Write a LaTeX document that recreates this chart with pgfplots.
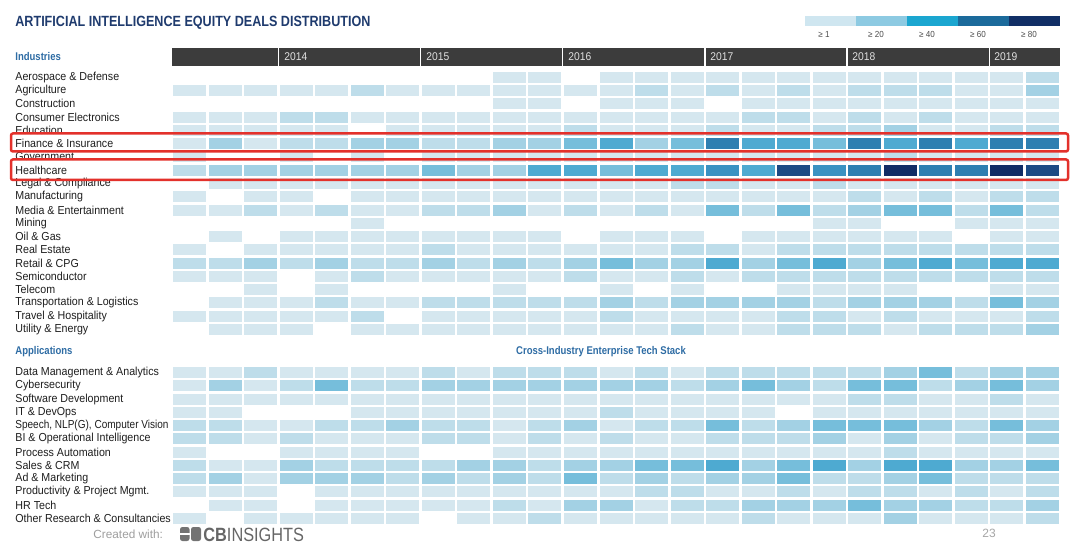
\documentclass[border=0pt]{standalone}
\usepackage{fontspec}
\setmainfont{Liberation Sans}
\newfontfamily\lab[FakeStretch=0.92]{Liberation Sans}
\newfontfamily\cond[FakeStretch=0.85]{Liberation Sans}
\usepackage{graphicx}
\usepackage{pgfplots}
\usepackage{pgfplotstable}
\pgfplotsset{compat=1.18}

\definecolor{hmA}{HTML}{D5E7EF}
\definecolor{hmB}{HTML}{BEDDEA}
\definecolor{hmC}{HTML}{A3D1E4}
\definecolor{hmD}{HTML}{76BEDB}
\definecolor{hmE}{HTML}{4EAAD1}
\definecolor{hmM}{HTML}{3A92C2}
\definecolor{hmF}{HTML}{2E7FB1}
\definecolor{hmG}{HTML}{1C4A84}
\definecolor{hmH}{HTML}{112C65}
\definecolor{lgA}{HTML}{CFE6F0}
\definecolor{lgB}{HTML}{8DCAE2}
\definecolor{lgC}{HTML}{1BA6D0}
\definecolor{lgD}{HTML}{1B6A9B}
\definecolor{lgE}{HTML}{112F66}
\definecolor{hdr}{HTML}{3C3C3C}
\definecolor{ttl}{HTML}{1F3B6E}
\definecolor{sec}{HTML}{2E6CA4}
\definecolor{txt}{HTML}{1E1E1E}
\definecolor{redbox}{HTML}{E3312B}

\pgfdeclareplotmark{cell}{\pgfpathrectangle{\pgfpoint{-8.25pt}{-2.75pt}}{\pgfpoint{16.5pt}{5.5pt}}\pgfusepathqfill}

\newcommand\labf{\lab\fontsize{5.8pt}{6pt}\selectfont\color{txt}}
\newcommand\secf{\cond\bfseries\fontsize{5.6pt}{6pt}\selectfont\color{sec}}

% rows: y pixel position, then 25 quarters (2013 Q2 ... 2019 Q2)
\pgfplotstableread{
r c0 c1 c2 c3 c4 c5 c6 c7 c8 c9 c10 c11 c12 c13 c14 c15 c16 c17 c18 c19 c20 c21 c22 c23 c24
77.30  z z z z z z z z z a a z a a a a a a a a a a a a b
90.57  a a a a a b a a a a a a a b a b a b a b b b a a c
103.84 z z z z z z z z z a a z a a a z a a a a a a a a a
117.11 a a a b b a a a a a a a a a a a b b a b a b a a a
130.38 a a a a a z a a a a a b a a a b a a b b c a a b b
143.65 a c a b b c c b b c c d e c d f e e d f e f e f f
156.92 a z z a z a z a a a a a a a a a a a a a b a a a a
170.19 b c c c c c c d c c e e d e e m e g m f h f f h g
183.46 z a a a a a a a a a a a a a b b a a b a a a a a a
196.73 a z a a z a a a a a a a a a a a a a a b a b a b b
210.00 a a b a b a a b b c a b a b a d b d b c d d b d b
223.27 z z z z z a z z z z z z z z z z z z a a z z a a a
236.54 z a z a a a a a a a a z a a a z a a a a a a z a a
249.81 a z a a a a a b a a a a a a b b a b b b b b b b b
263.08 b b c b c b b c b c b c d c c e c d e c d e d e e
276.35 a a a z a b a a a a a b a a b a b b b b b b b b b
289.62 z z a z a z z z z a z z a z a z z a a a a z z a a
302.89 z a a a b a a b b b b b c b c c c c b c c c b d c
316.16 a a a a a b z a a a a a b a a a a b b a b a a a b
329.43 z a a a z a a a a a a a a a b a a b b b a b b b c
372.50 a a b a a a a b a b b b a b a b b b b b c d b c c
385.77 a c a b d b b c c c c c c c b c d c b d d b c d c
399.04 a a a a a a a a a a a a a a a a a a a b b a a b a
412.31 a a z z z a a a a a a a b a a a a z a a a a a a a
425.58 b b a a b b c b b a b c a b b d b c d d d c b d c
438.85 b b a b a a a b b a b a b a a b b b c a c a b b c
452.12 a z z a a a a z z a a a a a a a a a a a b a a a a
465.39 b a a c b b b b c c b c c d d e c d e c e e c c d
478.66 b c a c c c b c b c b d b c b c c d b b c d b b b
491.93 a a a z a a a a a a a a a b b a a b a b b a b a b
505.20 z a a z a a a a a b a c c a b b c c c d c c b b c
518.47 a z a a a a a z a a b a a a a a b a a a c a a a b
}\heat

\begin{document}
\begin{tikzpicture}
\begin{axis}[hide axis, clip=false, scale only axis,
  x=0.5pt, y=0.5pt, xmin=0, xmax=1080, ymin=0, ymax=552, y dir=reverse]
\path (axis cs:0,0) rectangle (axis cs:1080,552);

% title
\node[anchor=west, inner sep=0, text=ttl, font=\cond\bfseries\fontsize{7.4pt}{8pt}\selectfont] at (axis cs:15,22.5) {ARTIFICIAL INTELLIGENCE EQUITY DEALS DISTRIBUTION};

% legend
\fill[lgA] (axis cs:805,16) rectangle (axis cs:856,26);
\fill[lgB] (axis cs:856,16) rectangle (axis cs:907,26);
\fill[lgC] (axis cs:907,16) rectangle (axis cs:958,26);
\fill[lgD] (axis cs:958,16) rectangle (axis cs:1009,26);
\fill[lgE] (axis cs:1009,16) rectangle (axis cs:1060,26);
\node[inner sep=0, text=black!70, font=\lab\fontsize{4.4pt}{5pt}\selectfont] at (axis cs:824,34.5) {≥ 1};
\node[inner sep=0, text=black!70, font=\lab\fontsize{4.4pt}{5pt}\selectfont] at (axis cs:876,34.5) {≥ 20};
\node[inner sep=0, text=black!70, font=\lab\fontsize{4.4pt}{5pt}\selectfont] at (axis cs:927,34.5) {≥ 40};
\node[inner sep=0, text=black!70, font=\lab\fontsize{4.4pt}{5pt}\selectfont] at (axis cs:978,34.5) {≥ 60};
\node[inner sep=0, text=black!70, font=\lab\fontsize{4.4pt}{5pt}\selectfont] at (axis cs:1029,34.5) {≥ 80};

% header bar
\fill[hdr] (axis cs:172,48) rectangle (axis cs:1060,66);
\draw[white, line width=0.6pt] (axis cs:278.6,48) -- (axis cs:278.6,66);
\draw[white, line width=0.6pt] (axis cs:420.7,48) -- (axis cs:420.7,66);
\draw[white, line width=0.6pt] (axis cs:562.8,48) -- (axis cs:562.8,66);
\draw[white, line width=0.6pt] (axis cs:704.9,48) -- (axis cs:704.9,66);
\draw[white, line width=0.6pt] (axis cs:847.0,48) -- (axis cs:847.0,66);
\draw[white, line width=0.6pt] (axis cs:989.1,48) -- (axis cs:989.1,66);
\node[anchor=west, inner sep=0, text=black!12, font=\lab\fontsize{5.6pt}{6pt}\selectfont] at (axis cs:284,57) {2014};
\node[anchor=west, inner sep=0, text=black!12, font=\lab\fontsize{5.6pt}{6pt}\selectfont] at (axis cs:426,57) {2015};
\node[anchor=west, inner sep=0, text=black!12, font=\lab\fontsize{5.6pt}{6pt}\selectfont] at (axis cs:568,57) {2016};
\node[anchor=west, inner sep=0, text=black!12, font=\lab\fontsize{5.6pt}{6pt}\selectfont] at (axis cs:710,57) {2017};
\node[anchor=west, inner sep=0, text=black!12, font=\lab\fontsize{5.6pt}{6pt}\selectfont] at (axis cs:852,57) {2018};
\node[anchor=west, inner sep=0, text=black!12, font=\lab\fontsize{5.6pt}{6pt}\selectfont] at (axis cs:994,57) {2019};

% section headers
\node[anchor=west, inner sep=0, font=\secf] at (axis cs:15,56.5) {Industries};
\node[anchor=west, inner sep=0, font=\secf] at (axis cs:15,351.5) {Applications};
\node[inner sep=0, font=\secf] at (axis cs:601,351.5) {Cross-Industry Enterprise Tech Stack};

% heatmap cells
\pgfplotsinvokeforeach{0,...,24}{
  \addplot[scatter, only marks, mark=cell, point meta=explicit symbolic,
    scatter/classes={z={white},a={hmA},b={hmB},c={hmC},d={hmD},e={hmE},m={hmM},f={hmF},g={hmG},h={hmH}}]
    table[x expr={189.76+35.52*#1}, y=r, meta=c#1] {\heat};
}

% row labels
\node[anchor=west, inner sep=0, font=\labf] at (axis cs:15,77.30) {Aerospace \& Defense};
\node[anchor=west, inner sep=0, font=\labf] at (axis cs:15,90.57) {Agriculture};
\node[anchor=west, inner sep=0, font=\labf] at (axis cs:15,103.84) {Construction};
\node[anchor=west, inner sep=0, font=\labf] at (axis cs:15,117.11) {Consumer Electronics};
\node[anchor=west, inner sep=0, font=\labf] at (axis cs:15,130.38) {Education};
\node[anchor=west, inner sep=0, font=\labf] at (axis cs:15,143.65) {Finance \& Insurance};
\node[anchor=west, inner sep=0, font=\labf] at (axis cs:15,156.92) {Government};
\node[anchor=west, inner sep=0, font=\labf] at (axis cs:15,170.19) {Healthcare};
\node[anchor=west, inner sep=0, font=\labf] at (axis cs:15,183.46) {Legal \& Compliance};
\node[anchor=west, inner sep=0, font=\labf] at (axis cs:15,196.73) {Manufacturing};
\node[anchor=west, inner sep=0, font=\labf] at (axis cs:15,210.00) {Media \& Entertainment};
\node[anchor=west, inner sep=0, font=\labf] at (axis cs:15,223.27) {Mining};
\node[anchor=west, inner sep=0, font=\labf] at (axis cs:15,236.54) {Oil \& Gas};
\node[anchor=west, inner sep=0, font=\labf] at (axis cs:15,249.81) {Real Estate};
\node[anchor=west, inner sep=0, font=\labf] at (axis cs:15,263.08) {Retail \& CPG};
\node[anchor=west, inner sep=0, font=\labf] at (axis cs:15,276.35) {Semiconductor};
\node[anchor=west, inner sep=0, font=\labf] at (axis cs:15,289.62) {Telecom};
\node[anchor=west, inner sep=0, font=\labf] at (axis cs:15,302.89) {Transportation \& Logistics};
\node[anchor=west, inner sep=0, font=\labf] at (axis cs:15,316.16) {Travel \& Hospitality};
\node[anchor=west, inner sep=0, font=\labf] at (axis cs:15,329.43) {Utility \& Energy};
\node[anchor=west, inner sep=0, font=\labf] at (axis cs:15,372.50) {Data Management \& Analytics};
\node[anchor=west, inner sep=0, font=\labf] at (axis cs:15,385.77) {Cybersecurity};
\node[anchor=west, inner sep=0, font=\labf] at (axis cs:15,399.04) {Software Development};
\node[anchor=west, inner sep=0, font=\labf] at (axis cs:15,412.31) {IT \& DevOps};
\node[anchor=west, inner sep=0, font=\labf] at (axis cs:15,425.58) {\scalebox{0.94}[1]{Speech, NLP(G), Computer Vision}};
\node[anchor=west, inner sep=0, font=\labf] at (axis cs:15,438.85) {BI \& Operational Intelligence};
\node[anchor=west, inner sep=0, font=\labf] at (axis cs:15,452.12) {Process Automation};
\node[anchor=west, inner sep=0, font=\labf] at (axis cs:15,465.39) {Sales \& CRM};
\node[anchor=west, inner sep=0, font=\labf] at (axis cs:15,478.66) {Ad \& Marketing};
\node[anchor=west, inner sep=0, font=\labf] at (axis cs:15,491.93) {Productivity \& Project Mgmt.};
\node[anchor=west, inner sep=0, font=\labf] at (axis cs:15,505.20) {HR Tech};
\node[anchor=west, inner sep=0, font=\labf] at (axis cs:15,518.47) {Other Research \& Consultancies};

% corners of the red highlight boxes (drawn after the axis, on top)
\coordinate (fA) at (axis cs:11,133.5);
\coordinate (fB) at (axis cs:1068,151.5);
\coordinate (hA) at (axis cs:11,159.5);
\coordinate (hB) at (axis cs:1068,180);

% footer
\node[anchor=west, inner sep=0, text=black!38, font=\fontsize{5.9pt}{6pt}\selectfont] at (axis cs:93,534) {Created with:};
\fill[black!55, rounded corners=1.2pt] (axis cs:180,527) rectangle (axis cs:189.5,541);
\fill[black!55, rounded corners=1.2pt] (axis cs:191,527) rectangle (axis cs:201,541);
\draw[white, line width=0.6pt] (axis cs:180,534) -- (axis cs:189.5,534);
\node[anchor=west, inner sep=0, text=black!60, font=\cond\fontsize{9.6pt}{10pt}\selectfont] at (axis cs:203,534.5) {\textbf{CB}INSIGHTS};
\node[anchor=west, inner sep=0, text=black!35, font=\fontsize{6pt}{6pt}\selectfont] at (axis cs:982,533.5) {23};
\end{axis}
\draw[redbox, line width=1.25pt, rounded corners=1pt] (fA) rectangle (fB);
\draw[redbox, line width=1.25pt, rounded corners=1pt] (hA) rectangle (hB);
\end{tikzpicture}
\end{document}
